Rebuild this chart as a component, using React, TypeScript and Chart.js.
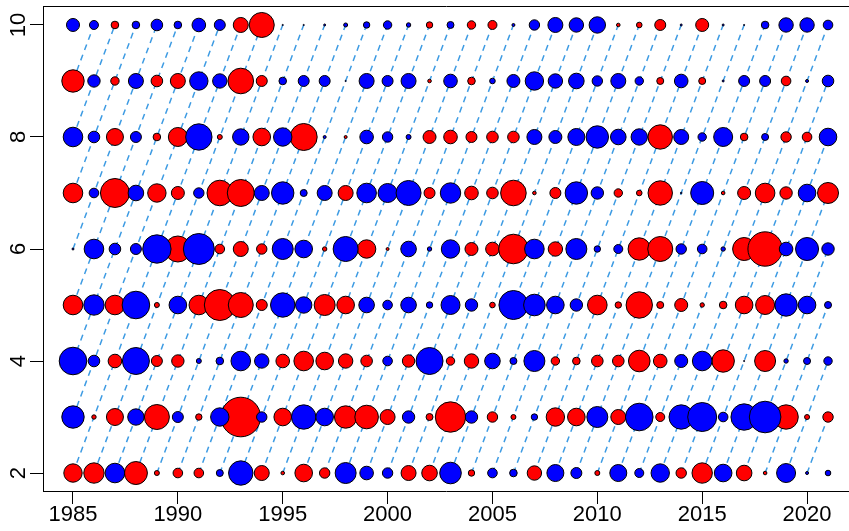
import React, { useEffect, useRef } from "react";
import { Chart, registerables } from "chart.js";

Chart.register(...registerables);

const YEARS = [
  1985, 1986, 1987, 1988, 1989, 1990, 1991, 1992, 1993, 1994, 1995, 1996, 1997,
  1998, 1999, 2000, 2001, 2002, 2003, 2004, 2005, 2006, 2007, 2008, 2009, 2010,
  2011, 2012, 2013, 2014, 2015, 2016, 2017, 2018, 2019, 2020, 2021,
];
const AGES = [2, 3, 4, 5, 6, 7, 8, 9, 10];
const X_TICKS = [1985, 1990, 1995, 2000, 2005, 2010, 2015, 2020];
const Y_TICKS = [2, 4, 6, 8, 10];

// Residuals per age (1985..2021); positive = red, negative = blue
const RES_AGE2 = [1.94, 2.14, -2.06, 2.4, 0.6, 1.06, 1.06, -0.8, -2.54, 1.6, 0.46, 1.86, 1.14, -2.2, -1.46, -1.14, 1.6, 1.66, -2.26, 0.74, -1.06, -0.86, 1.54, -1.8, -1.2, 0.6, -1.8, -1.0, -1.94, 1.14, 2.14, -1.86, 1.66, 0.46, -2.0, -0.4, -0.66];
const RES_AGE3 = [-2.34, 0.54, 1.8, -1.74, 2.6, -1.2, 0.74, -1.94, 4.06, -1.14, 1.86, -2.54, -1.86, 2.34, 2.46, 1.6, -1.34, 0.8, 3.14, -1.34, 1.14, 0.6, -0.74, 1.94, 1.86, -2.2, 1.6, -2.86, 1.0, -2.54, -3.0, -1.06, -2.74, -3.26, 2.54, 0.6, 1.14];
const RES_AGE4 = [-2.86, -1.26, 1.46, -2.8, 1.2, 1.34, -0.6, -0.86, -2.06, -1.54, 1.46, 2.06, 1.86, 1.54, 1.26, -1.06, 1.34, -2.8, 0.94, 1.54, -1.66, -0.8, -2.2, 0.94, 0.86, 1.26, 1.26, 2.26, 1.46, -1.4, -2.06, 2.34, -0.2, 2.2, -0.54, -0.8, -0.94];
const RES_AGE5 = [2.06, -2.14, 2.06, -2.86, 0.6, -1.86, 2.06, 3.2, 2.6, 1.2, -2.54, -1.74, 2.2, 1.86, -1.66, -1.06, -1.66, -0.74, -2.0, -1.34, 0.66, -3.0, -2.26, -1.86, -1.34, 2.06, 0.74, 2.74, 0.8, 1.4, 0.54, 0.86, 1.86, 2.0, -2.34, -1.86, -0.8];
const RES_AGE6 = [-0.3, -2.06, -1.26, -1.2, -2.94, 2.7, -3.2, 1.06, 1.6, 1.14, -2.2, -1.86, 0.54, -2.6, 1.94, 0.4, -1.66, -0.54, -1.94, 1.4, 1.46, 3.06, -2.06, 1.54, -2.2, -0.74, -1.0, 2.34, 2.6, -1.14, -1.06, -0.54, 2.4, 3.54, -1.46, -2.4, -1.34];
const RES_AGE7 = [2.06, -1.06, 3.0, -1.66, 1.94, 1.4, -1.14, 2.66, 2.8, -1.6, -2.34, -0.8, -1.6, 1.6, -2.06, -2.0, -2.6, 1.2, -2.14, 1.46, 1.26, 2.66, 0.46, 1.2, -2.34, -1.34, 0.94, 0.66, 2.54, -0.26, -2.4, 0.46, 1.4, 2.06, 1.34, -1.86, 2.2];
const RES_AGE8 = [-2.06, -1.26, 1.8, -1.2, 0.86, 2.0, -2.74, 0.6, -1.74, 1.86, -1.94, 2.8, -0.4, 0.4, -1.46, -1.14, -0.6, 1.4, 1.46, 1.2, 1.26, 1.26, -1.6, -1.4, -1.8, -2.34, -1.66, -1.74, 2.54, -1.6, -0.94, -2.0, 0.86, -0.8, 1.14, 1.06, -1.86];
const RES_AGE9 = [2.34, -1.34, 0.94, -1.6, 1.26, 1.6, -1.94, -1.54, 2.66, 1.2, -0.86, -1.2, -1.2, -0.2, -1.6, -1.2, -1.6, 0.46, -1.46, 0.86, -0.66, -1.4, -1.94, -1.54, -1.66, -1.14, -1.6, -0.94, 0.8, -1.46, 0.8, -0.3, -1.2, -1.2, 1.06, -0.4, -1.26];
const RES_AGE10 = [-1.4, -1.0, 0.86, -0.86, -1.26, -0.86, -1.46, -1.2, 1.6, 2.6, -0.2, -0.2, -0.3, -0.5, -0.74, -0.94, -0.54, 0.74, -0.8, 0.94, 1.0, -0.4, -1.14, -1.6, -1.54, -1.74, 0.46, 0.66, 1.2, -0.3, 1.4, -0.3, -0.2, -0.86, -1.54, -1.54, -1.06];

const RESIDUALS = [RES_AGE2, RES_AGE3, RES_AGE4, RES_AGE5, RES_AGE6, RES_AGE7, RES_AGE8, RES_AGE9, RES_AGE10];

const RED = "#ff0000";
const BLUE = "#0000ff";
const COHORT_COLOR = "#3d9be3";
const FONT = '"Liberation Sans", Arial, Helvetica, sans-serif';

function radiusOf(v: number) {
  return Math.max(0.6, Math.abs(v) * 5 - 0.5);
}

const framePlugin = {
  id: "frame",
  afterDraw(chart: any) {
    const { ctx, chartArea } = chart;
    const yScale = chart.scales.y;
    ctx.save();
    ctx.strokeStyle = "#000";
    ctx.lineWidth = 1;
    ctx.beginPath();
    const t = Math.round(chartArea.top) - 0.5;
    ctx.moveTo(chartArea.left, t);
    ctx.lineTo(chartArea.right + 1, t);
    ctx.stroke();
    ctx.fillStyle = "#000";
    ctx.font = `22px ${FONT}`;
    ctx.textAlign = "center";
    ctx.textBaseline = "alphabetic";
    for (const v of Y_TICKS) {
      const py = yScale.getPixelForValue(v);
      ctx.save();
      ctx.translate(25, py);
      ctx.rotate(-Math.PI / 2);
      ctx.fillText(String(v), 0, 0);
      ctx.restore();
    }
    ctx.restore();
  },
};

export default function App() {
  const ref = useRef<HTMLCanvasElement | null>(null);

  useEffect(() => {
    if (!ref.current) return;
    const pos: any[] = [];
    const neg: any[] = [];
    AGES.forEach((age, ai) => {
      YEARS.forEach((yr, yi) => {
        const v = RESIDUALS[ai][yi];
        const pt = { x: yr, y: age, r: radiusOf(v) };
        if (v >= 0) pos.push(pt);
        else neg.push(pt);
      });
    });

    const firstYear = YEARS[0];
    const lastYear = YEARS[YEARS.length - 1];
    const minAge = AGES[0];
    const maxAge = AGES[AGES.length - 1];
    const cohort: any[] = [];
    for (let c = firstYear - (maxAge - minAge); c <= lastYear; c++) {
      const seg: any[] = [];
      for (const a of AGES) {
        const yr = c + a - minAge;
        if (yr >= firstYear && yr <= lastYear) seg.push({ x: yr, y: a });
      }
      if (seg.length >= 2) {
        cohort.push(...seg);
        cohort.push({ x: seg[seg.length - 1].x, y: null });
      }
    }

    const chart = new Chart(ref.current, {
      type: "bubble",
      data: {
        datasets: [
          {
            type: "bubble",
            data: neg,
            backgroundColor: BLUE,
            borderColor: "#000",
            borderWidth: 1,
            hoverRadius: 0,
            hoverBorderWidth: 1,
            order: 0,
          } as any,
          {
            type: "bubble",
            data: pos,
            backgroundColor: RED,
            borderColor: "#000",
            borderWidth: 1,
            hoverRadius: 0,
            hoverBorderWidth: 1,
            order: 1,
          } as any,
          {
            type: "line",
            data: cohort,
            borderColor: COHORT_COLOR,
            borderWidth: 1.5,
            borderDash: [6, 5],
            pointRadius: 0,
            pointHoverRadius: 0,
            fill: false,
            spanGaps: false,
            tension: 0,
            order: 2,
          } as any,
        ],
      },
      options: {
        responsive: false,
        animation: false,
        devicePixelRatio: 1,
        events: [],
        layout: { autoPadding: false, padding: { top: 7, left: 0, right: 0, bottom: 0 } },
        plugins: { legend: { display: false }, tooltip: { enabled: false } },
        scales: {
          x: {
            type: "linear",
            position: "bottom",
            min: 1983.57,
            max: 2022.0,
            afterBuildTicks: (axis: any) => {
              axis.ticks = X_TICKS.map((v) => ({ value: v }));
            },
            afterFit: (axis: any) => {
              axis.height = 40;
            },
            grid: {
              display: true,
              drawOnChartArea: false,
              drawTicks: true,
              tickLength: 13,
              color: "#000",
              lineWidth: 1,
            },
            border: { display: true, color: "#000", width: 1 },
            ticks: {
              display: true,
              autoSkip: false,
              maxRotation: 0,
              minRotation: 0,
              padding: 0,
              color: "#000",
              font: { family: FONT, size: 22, lineHeight: 1 },
              callback: (v: any) => String(v),
            },
          },
          y: {
            type: "linear",
            position: "left",
            min: 1.679,
            max: 10.321,
            afterBuildTicks: (axis: any) => {
              axis.ticks = Y_TICKS.map((v) => ({ value: v }));
            },
            afterFit: (axis: any) => {
              axis.width = 43;
            },
            grid: {
              display: true,
              drawOnChartArea: false,
              drawTicks: true,
              tickLength: 13,
              color: "#000",
              lineWidth: 1,
            },
            border: { display: true, color: "#000", width: 1 },
            ticks: { display: false },
          },
        },
      },
      plugins: [framePlugin],
    } as any);

    return () => chart.destroy();
  }, []);

  return (
    <div
      style={{
        position: "fixed",
        left: 0,
        top: 0,
        width: 849,
        height: 531,
        background: "#fff",
      }}
    >
      <canvas ref={ref} width={849} height={531} style={{ width: 849, height: 531 }} />
    </div>
  );
}
